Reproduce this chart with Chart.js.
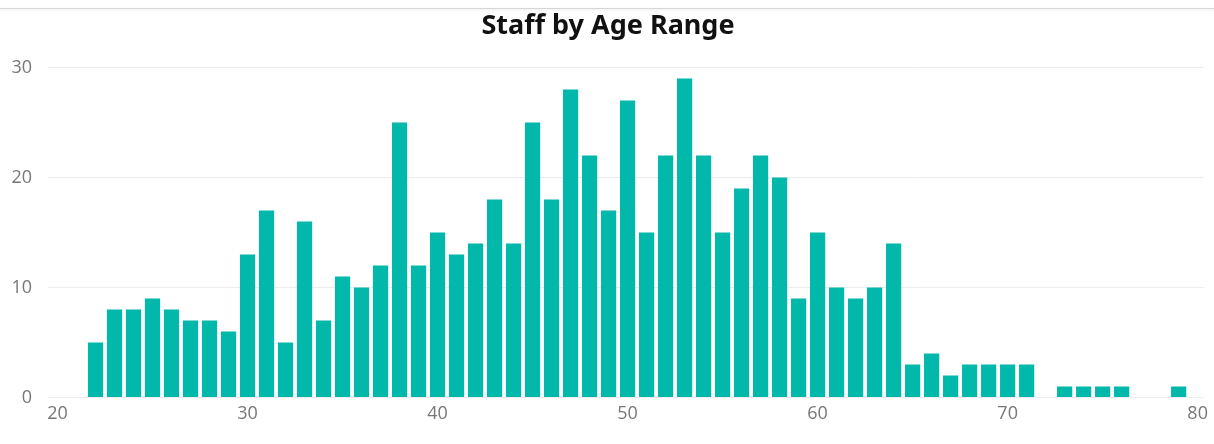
<!DOCTYPE html>
<html>
<head>
<meta charset="utf-8">
<title>Staff by Age Range</title>
<script src="https://cdn.jsdelivr.net/npm/chart.js@4.4.1/dist/chart.umd.min.js"></script>
<style>
  html, body { margin: 0; padding: 0; background: #ffffff; }
  #frame {
    position: absolute; left: 0; top: 0; width: 1214px; height: 444px;
  }
  #edge {
    position: absolute; left: 0; top: 8px; width: 1214px; height: 1px;
    background: #d6d6d6; box-shadow: 0 1px 3px rgba(0,0,0,0.12);
  }
  canvas { position: absolute; left: 0; top: 0; }
</style>
</head>
<body>
<div id="frame">
  <div id="edge"></div>
  <canvas id="ageChart" width="1214" height="444"></canvas>
</div>
<script>
// Edades (eje x) y número de empleados por edad
const ages = [22, 23, 24, 25, 26, 27, 28, 29, 30, 31, 32, 33, 34, 35, 36, 37, 38, 39, 40,
  41, 42, 43, 44, 45, 46, 47, 48, 49, 50, 51, 52, 53, 54, 55, 56, 57, 58, 59, 60,
  61, 62, 63, 64, 65, 66, 67, 68, 69, 70, 71, 72, 73, 74, 75, 76, 77, 78, 79];
const staffCounts = [5, 8, 8, 9, 8, 7, 7, 6, 13, 17, 5, 16, 7, 11, 10, 12, 25, 12, 15,
  13, 14, 18, 14, 25, 18, 28, 22, 17, 27, 15, 22, 29, 22, 15, 19, 22, 20, 9, 15,
  10, 9, 10, 14, 3, 4, 2, 3, 3, 3, 3, 0, 1, 1, 1, 1, 0, 0, 1];
const xTicks = [20, 30, 40, 50, 60, 70, 80];
const yTicks = [0, 10, 20, 30];

const points = ages.map((age, i) => ({ x: age, y: staffCounts[i] }));

const ctx = document.getElementById('ageChart');

new Chart(ctx, {
  type: 'bar',
  data: {
    datasets: [{
      label: 'Staff',
      data: points,
      backgroundColor: '#01B8AA',
      borderWidth: 0,
      categoryPercentage: 1,
      barPercentage: 0.8
    }]
  },
  options: {
    responsive: false,
    animation: false,
    layout: {
      padding: { left: 11, right: 9, top: 0, bottom: 13 }
    },
    plugins: {
      legend: { display: false },
      tooltip: { enabled: false },
      title: {
        display: true,
        text: 'Staff by Age Range',
        color: '#111111',
        font: { family: '"Noto Sans", "Open Sans", sans-serif', size: 27, weight: 'bold' },
        padding: { top: 10, bottom: 25 }
      }
    },
    scales: {
      x: {
        type: 'linear',
        offset: false,
        min: 19.5,
        max: 80.3,
        afterBuildTicks: (scale) => {
          scale.ticks = xTicks.map(v => ({ value: v }));
        },
        grid: { display: false, offset: false, drawTicks: false },
        border: { display: false },
        ticks: {
          color: '#777777',
          padding: 6,
          maxRotation: 0,
          font: { family: '"Open Sans", "Noto Sans", sans-serif', size: 18 }
        }
      },
      y: {
        min: 0,
        max: 30,
        afterBuildTicks: (scale) => {
          scale.ticks = yTicks.map(v => ({ value: v }));
        },
        afterFit: (scale) => {
          scale.width = 37;
        },
        grid: { color: '#ececec', lineWidth: 1, drawTicks: false },
        border: { display: false },
        ticks: {
          color: '#777777',
          padding: 16,
          font: { family: '"Open Sans", "Noto Sans", sans-serif', size: 18 }
        }
      }
    }
  }
});
</script>
</body>
</html>
